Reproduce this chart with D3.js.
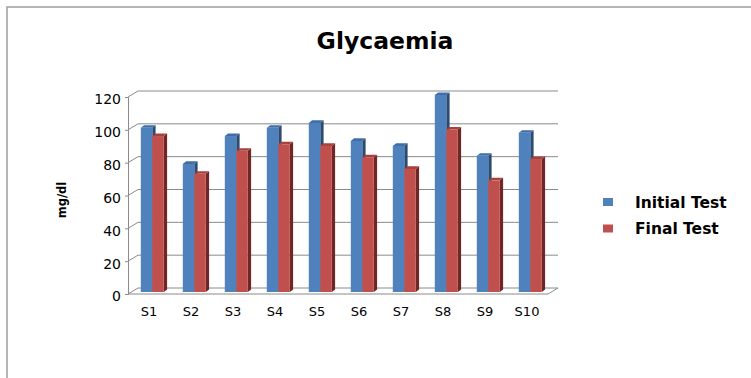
<!DOCTYPE html>
<html>
<head>
<meta charset="utf-8">
<script src="https://cdn.jsdelivr.net/npm/d3@7"></script>
<style>
  html, body { margin: 0; padding: 0; background: #fff; }
  svg { display: block; }
</style>
</head>
<body>
<svg id="chart" width="751" height="378"></svg>
<script>
// Glycaemia readings per subject (mg/dl)
const categories = ["S1", "S2", "S3", "S4", "S5", "S6", "S7", "S8", "S9", "S10"];
const initialTest = [100, 78, 95, 100, 103, 92, 89, 120, 83, 97];
const finalTest = [95, 72, 86, 90, 89, 82, 75, 99, 68, 81];
const seriesNames = ["Initial Test", "Final Test"];
const yTicks = [0, 20, 40, 60, 80, 100, 120];

const svg = d3.select("#chart");

// Outer chart frame (runs off the right and bottom edges)
svg.append("rect")
  .attr("x", 7).attr("y", 7)
  .attr("width", 800).attr("height", 400)
  .attr("fill", "none")
  .attr("stroke", "#a3a3a3")
  .attr("stroke-width", 1.6);

// Front-plane scales
const x = d3.scaleBand().domain(categories).range([128, 548]).padding(0);
const y = d3.scaleLinear().domain([0, 120]).range([294, 97]);

// Perspective offsets: back wall, and the depth at which the columns stand
const wallDx = 10, wallDy = -6;
const barDx = 3.3, barDy = -2;
const faceDx = 3.3, faceDy = -2.6;
const barW = 11.5;

const grid = svg.append("g");

// Back-wall gridlines
grid.selectAll("line.grid")
  .data(yTicks)
  .join("line")
  .attr("class", "grid")
  .attr("x1", 128 + wallDx).attr("x2", 548 + wallDx)
  .attr("y1", d => y(d) + wallDy).attr("y2", d => y(d) + wallDy)
  .attr("stroke", "#8a8a8a").attr("stroke-width", 1);

// Slanted connectors from the value axis to the back wall
grid.selectAll("line.slant")
  .data(yTicks)
  .join("line")
  .attr("class", "slant")
  .attr("x1", 128).attr("x2", 128 + wallDx)
  .attr("y1", d => y(d)).attr("y2", d => y(d) + wallDy)
  .attr("stroke", "#8a8a8a").attr("stroke-width", 1);

// Floor: front edge and right edge
grid.append("path")
  .attr("d", `M128,${y(0)} L548,${y(0)} L${548 + wallDx},${y(0) + wallDy}`)
  .attr("fill", "none")
  .attr("stroke", "#8a8a8a").attr("stroke-width", 1);

// Value axis
const yAxis = svg.append("g")
  .attr("transform", "translate(128,0)")
  .call(d3.axisLeft(y).tickValues(yTicks).tickSize(3).tickPadding(4));
yAxis.select(".domain").attr("stroke", "#8a8a8a");
yAxis.selectAll(".tick line").attr("stroke", "#8a8a8a");
yAxis.selectAll(".tick text")
  .attr("font-family", "DejaVu Sans")
  .attr("font-size", 14)
  .attr("fill", "#000")
  .attr("transform", "translate(0,2.5)");

// Category axis labels
const xAxis = svg.append("g")
  .attr("transform", `translate(0,${y(0)})`)
  .call(d3.axisBottom(x).tickSize(0).tickPadding(13));
xAxis.select(".domain").remove();
xAxis.selectAll(".tick text")
  .attr("font-family", "DejaVu Sans")
  .attr("font-size", 13)
  .attr("fill", "#000");

// 3D column helper
const series = [
  { name: seriesNames[0], values: initialTest, front: "#4f81bd", top: "#3f6ea8", side: "#2b4b72", offset: -barW },
  { name: seriesNames[1], values: finalTest, front: "#c0504d", top: "#a8403d", side: "#6e2725", offset: 0 }
];

const bars = svg.append("g");
categories.forEach((cat, i) => {
  const cx = x(cat) + x.bandwidth() / 2 + barDx;
  series.forEach(s => {
    const x0 = cx + s.offset, x1 = x0 + barW;
    const yT = y(s.values[i]) + barDy, yB = y(0) + barDy;
    const g = bars.append("g");
    g.append("path")
      .attr("d", `M${x1},${yT} L${x1 + faceDx},${yT + faceDy} L${x1 + faceDx},${yB + faceDy} L${x1},${yB} Z`)
      .attr("fill", s.side);
    g.append("path")
      .attr("d", `M${x0},${yT} L${x0 + faceDx},${yT + faceDy} L${x1 + faceDx},${yT + faceDy} L${x1},${yT} Z`)
      .attr("fill", s.top);
    g.append("rect")
      .attr("x", x0).attr("y", yT)
      .attr("width", barW).attr("height", yB - yT)
      .attr("fill", s.front);
  });
});

// Title
svg.append("text")
  .attr("x", 385).attr("y", 49)
  .attr("text-anchor", "middle")
  .attr("font-family", "DejaVu Sans")
  .attr("font-weight", "bold")
  .attr("font-size", 23.5)
  .attr("fill", "#000")
  .text("Glycaemia");

// Value axis title
svg.append("text")
  .attr("transform", "translate(66,200) rotate(-90)")
  .attr("text-anchor", "middle")
  .attr("font-family", "DejaVu Sans")
  .attr("font-weight", "bold")
  .attr("font-size", 11.5)
  .attr("fill", "#000")
  .text("mg/dl");

// Legend
const legend = svg.append("g");
series.forEach((s, i) => {
  const ly = 202 + i * 26.5;
  legend.append("rect")
    .attr("x", 603).attr("y", ly - 4)
    .attr("width", 10).attr("height", 8)
    .attr("fill", s.front);
  legend.append("text")
    .attr("x", 635).attr("y", ly)
    .attr("dy", "0.36em")
    .attr("font-family", "DejaVu Sans")
    .attr("font-weight", "bold")
    .attr("font-size", 15.5)
    .attr("fill", "#000")
    .text(s.name);
});
</script>
</body>
</html>
